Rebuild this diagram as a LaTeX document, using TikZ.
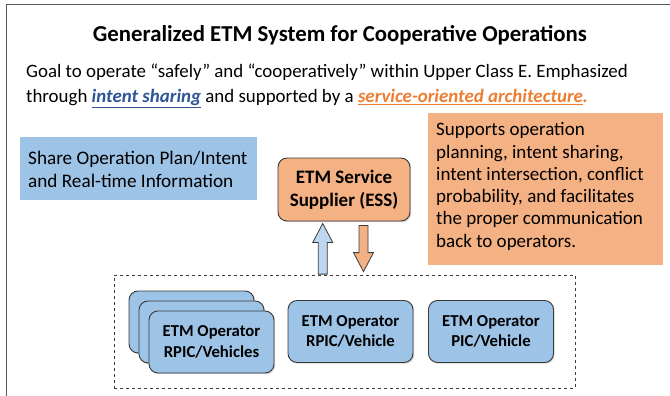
\documentclass[tikz,border=0pt]{standalone}
\usepackage{fontspec}
\setmainfont{Carlito}
\usetikzlibrary{calc,shadows}
\definecolor{bluefill}{HTML}{9DC3E6}
\definecolor{lightblue}{HTML}{BDD7EE}
\definecolor{orangefill}{HTML}{F4B183}
\definecolor{linkblue}{HTML}{2F5597}
\definecolor{linkorange}{HTML}{ED7D31}
\definecolor{edge}{HTML}{3A3A3A}
\tikzset{
  opbox/.style={draw=edge, line width=0.9pt, fill=bluefill, rounded corners=9pt,
    minimum width=125pt, minimum height=62pt, align=center,
    font=\fontsize{16.7}{20.5}\selectfont\bfseries,
    drop shadow={shadow xshift=1.2pt, shadow yshift=-1.2pt, opacity=0.35}},
  essbox/.style={draw=edge, line width=0.9pt, fill=orangefill, rounded corners=9pt,
    minimum width=132pt, minimum height=63pt, align=center,
    font=\fontsize{19}{23}\selectfont\bfseries,
    drop shadow={shadow xshift=1.2pt, shadow yshift=-1.2pt, opacity=0.35}},
  blockarrow/.style={draw=edge, line width=0.8pt, line join=miter},
}
\begin{document}
\begin{tikzpicture}[x=1pt,y=-1pt]
\useasboundingbox (0,0) rectangle (670,396);
% outer frame
\draw[gray!70!black, line width=1.3pt] (6.5,420) -- (6.5,4.5) -- (700,4.5);

% title and goal text
\node[font=\fontsize{22.8}{27}\selectfont\bfseries] (title) at (340,35) {Generalized ETM System for Cooperative Operations};
\node[anchor=west, align=left, inner sep=0pt, font=\fontsize{18.9}{25}\selectfont] (goal) at (26,85.5)
  {Goal to operate “safely” and “cooperatively” within Upper Class E. Emphasized\\
   through \textcolor{linkblue}{\bfseries\itshape\underline{intent sharing}} and supported by a
   \textcolor{linkorange}{\bfseries\itshape\underline{service-oriented architecture}.}};

% left info box
\fill[bluefill] (20,137) rectangle (257,200);
\node[anchor=west, align=left, inner sep=0pt, font=\fontsize{19.2}{23}\selectfont] (share) at (28,169.5)
  {Share Operation Plan/Intent\\and Real-time Information};

% right info box
\fill[orangefill] (428,113) rectangle (663,265);
\node[anchor=west, align=left, inner sep=0pt, font=\fontsize{19}{22.3}\selectfont] (supports) at (436,186.5)
  {Supports operation\\planning, intent sharing,\\intent intersection, conflict\\probability, and facilitates\\the proper communication\\back to operators.};

% ESS
\node[essbox] (ess) at (344,189.5) {ETM Service\\Supplier (ESS)};

% dashed group
\node[draw=edge, dashed, line width=0.8pt, minimum width=461pt, minimum height=113pt, inner sep=0pt] (grp) at (344.5,331.5) {};

% operator boxes
\node[opbox] (opA3) at (191.5,322) {};
\node[opbox] (opA2) at (201.5,332) {};
\node[opbox] (opA) at (211.5,342) {ETM Operator\\RPIC/Vehicles};
\node[opbox] (opB) at (350.5,331.5) {ETM Operator\\RPIC/Vehicle};
\node[opbox] (opC) at (491,331.5) {ETM Operator\\PIC/Vehicle};

% block arrows between ESS and group
\coordinate (upTip) at (ess.south -| 322.75,0);
\coordinate (upTip) at ($(upTip)+(0,2)$);
\coordinate (upBase) at (grp.north -| 322.75,0);
\fill[lightblue] ($(upBase)+(-4.5,-0.5)$) -- ($(upTip)+(-4.5,19)$) -- ($(upTip)+(-10,19)$) -- (upTip)
  -- ($(upTip)+(10,19)$) -- ($(upTip)+(4.5,19)$) -- ($(upBase)+(4.5,-0.5)$) -- cycle;
\draw[blockarrow] ($(upBase)+(-4.5,-0.5)$) -- ($(upTip)+(-4.5,19)$) -- ($(upTip)+(-10,19)$) -- (upTip)
  -- ($(upTip)+(10,19)$) -- ($(upTip)+(4.5,19)$) -- ($(upBase)+(4.5,-0.5)$) -- cycle;

\coordinate (dnTop) at (ess.south -| 363.5,0);
\coordinate (dnTop) at ($(dnTop)+(0,4)$);
\coordinate (dnTip) at (grp.north -| 363.5,0);
\coordinate (dnTip) at ($(dnTip)+(0,-3)$);
\fill[orangefill] ($(dnTop)+(-4.5,0)$) -- ($(dnTip)+(-4.5,-19)$) -- ($(dnTip)+(-10,-19)$) -- (dnTip)
  -- ($(dnTip)+(10,-19)$) -- ($(dnTip)+(4.5,-19)$) -- ($(dnTop)+(4.5,0)$) -- cycle;
\draw[blockarrow] ($(dnTop)+(-4.5,0)$) -- ($(dnTip)+(-4.5,-19)$) -- ($(dnTip)+(-10,-19)$) -- (dnTip)
  -- ($(dnTip)+(10,-19)$) -- ($(dnTip)+(4.5,-19)$) -- ($(dnTop)+(4.5,0)$) -- cycle;
\end{tikzpicture}
\end{document}
